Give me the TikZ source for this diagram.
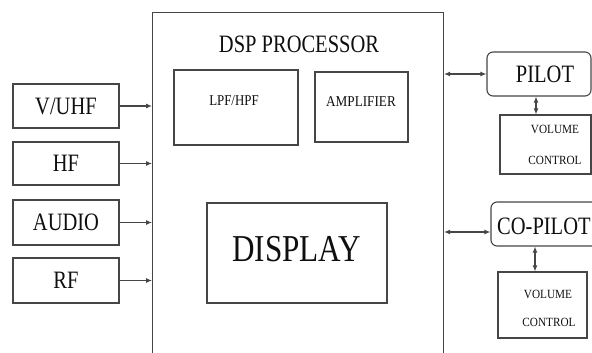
\documentclass[tikz,border=0pt]{standalone}
\usepackage{fontspec}
\setmainfont{Liberation Serif}
\usepackage{graphicx}
\usetikzlibrary{arrows.meta}
\definecolor{linec}{RGB}{70,70,70}
\definecolor{textc}{RGB}{15,15,15}
\newcommand\sqz[2][0.82]{\scalebox{#1}[1]{#2}}
\tikzset{
  box/.style={draw=linec, line width=1.1pt, inner sep=0pt},
  rbox/.style={box, rounded corners=6pt},
  txt/.style={inner sep=0pt, text depth=0pt, text=textc},
  big/.style={txt, font=\fontsize{25}{25}\selectfont},
  mid/.style={txt, font=\fontsize{15}{15}\selectfont},
  small/.style={txt, font=\fontsize{12.5}{12.5}\selectfont},
  huge/.style={txt, font=\fontsize{38}{38}\selectfont},
  inarrow/.style={draw=linec, line width=1.1pt, -{Latex[length=6pt,width=5pt]}},
  biarrow/.style={draw=linec, line width=1.1pt, {Latex[length=6pt,width=5pt]}-{Latex[length=6pt,width=5pt]}},
}
\begin{document}
\begin{tikzpicture}[x=1pt,y=-1pt]
\useasboundingbox (0,0) rectangle (592,353);
\clip (0,0) rectangle (592,353);
\fill[white] (0,0) rectangle (592,353);

% DSP processor block
\node[box, minimum width=291pt, minimum height=380pt, anchor=north west] (dsp) at (152,12) {};
\node[big] (dsptitle) at (299,44) {\sqz{DSP PROCESSOR}};

\node[box, minimum width=124pt, minimum height=75pt] (lpf) at (236,107.5) {};
\node[mid] (lpft) at (234,101) {\sqz[0.86]{LPF/HPF}};
\node[box, minimum width=93pt, minimum height=70pt] (amp) at (361.5,107) {};
\node[mid] (ampt) at (361,102) {\sqz[0.88]{AMPLIFIER}};
\node[box, minimum width=180pt, minimum height=100pt] (disp) at (297,253) {};
\node[huge] (dispt) at (296.5,249) {\sqz{DISPLAY}};

% inputs
\node[box, minimum width=106pt, minimum height=44pt, big] (vuhf) at (66,106) {\sqz{V/UHF}};
\node[box, minimum width=106pt, minimum height=43pt, big] (hf) at (66,163.5) {\sqz{HF}};
\node[box, minimum width=106pt, minimum height=45pt, big] (audio) at (66,222.5) {\sqz{AUDIO}};
\node[box, minimum width=106pt, minimum height=45pt, big] (rf) at (66,280.5) {\sqz{RF}};

\draw[inarrow] (vuhf.east) -- (vuhf.east -| dsp.west);
\draw[inarrow] (hf.east) -- (hf.east -| dsp.west);
\draw[inarrow] (audio.east) -- (audio.east -| dsp.west);
\draw[inarrow] (rf.east) -- (rf.east -| dsp.west);

% pilot
\node[rbox, minimum width=104pt, minimum height=44pt] (pilot) at (539,74) {};
\node[big] (pilott) at (545,74) {\sqz{PILOT}};
\node[box, minimum width=91pt, minimum height=59pt] (vc1) at (545.5,144.5) {};
\node[small] (vc1a) at (555,129) {\sqz[0.9]{VOLUME}};
\node[small] (vc1b) at (555,160) {\sqz[0.9]{CONTROL}};

% co-pilot
\node[rbox, minimum width=109pt, minimum height=44pt] (copilot) at (545.5,224) {};
\node[big, anchor=west] (copilott) at (497,226) {\sqz{CO-PILOT}};
\node[box, minimum width=89pt, minimum height=66pt] (vc2) at (542.5,305) {};
\node[small] (vc2a) at (548,294) {\sqz[0.9]{VOLUME}};
\node[small] (vc2b) at (549,322) {\sqz[0.9]{CONTROL}};

% connectors
\draw[biarrow] (pilot.west -| dsp.east) -- (pilot.west);
\draw[biarrow] ([yshift=-8pt]copilot.west -| dsp.east) -- ([yshift=-8pt]copilot.west);
\draw[biarrow] ([xshift=-9.5pt]vc1.north |- pilot.south) -- ([xshift=-9.5pt]vc1.north);
\draw[biarrow] ([xshift=-7.5pt]vc2.north |- copilot.south) -- ([xshift=-7.5pt]vc2.north);
\end{tikzpicture}
\end{document}
